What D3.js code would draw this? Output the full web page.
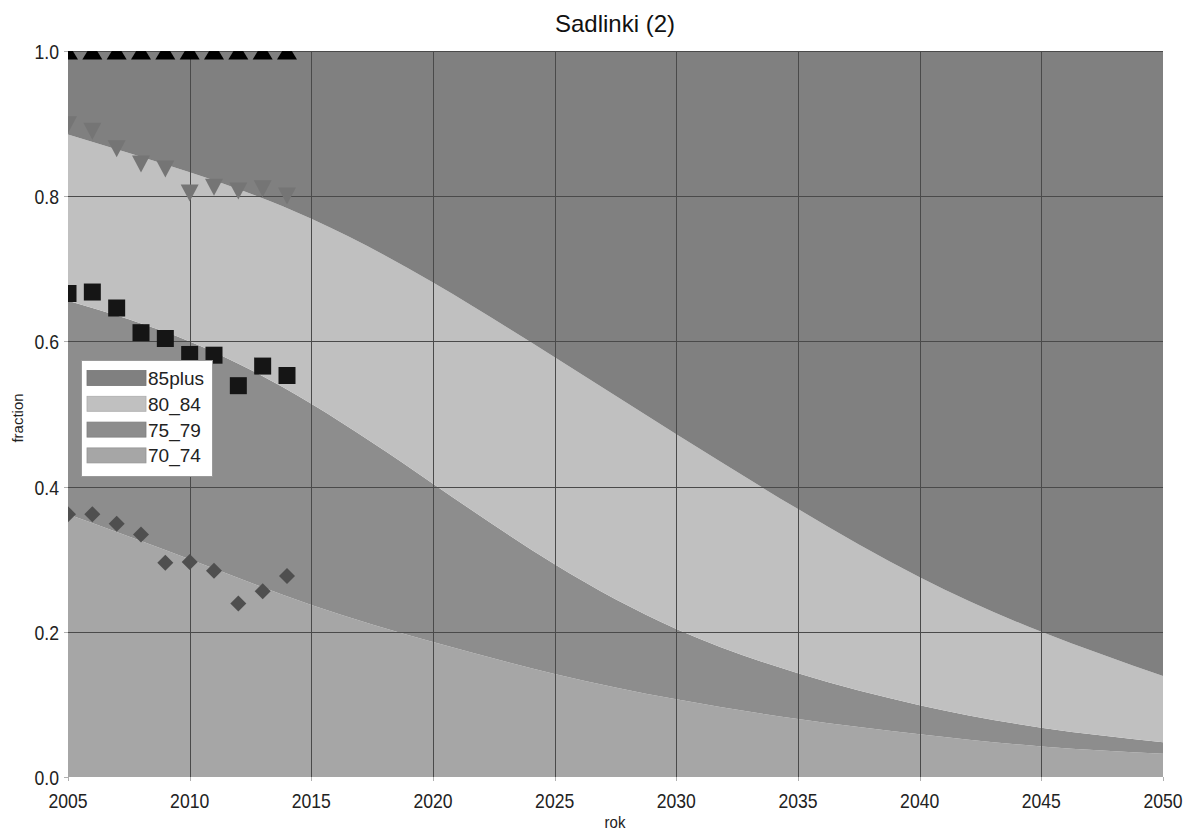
<!DOCTYPE html>
<html>
<head>
<meta charset="utf-8">
<script src="https://cdn.jsdelivr.net/npm/d3@7/dist/d3.min.js"></script>
<style>
  html, body { margin: 0; padding: 0; background: #fff; }
  svg { display: block; font-family: "Liberation Sans", Arial, sans-serif; }
</style>
</head>
<body>
<svg id="chart" width="1186" height="833"></svg>
<script>
// ---- data ----
const years = [2005, 2010, 2015, 2020, 2025, 2030, 2035, 2040, 2045, 2050];
const s70_74 = [0.362, 0.300, 0.237, 0.186, 0.142, 0.107, 0.080, 0.059, 0.042, 0.032];
const s75_79 = [0.294, 0.300, 0.277, 0.218, 0.151, 0.097, 0.063, 0.040, 0.026, 0.016];
const s80_84 = [0.229, 0.233, 0.255, 0.277, 0.285, 0.268, 0.226, 0.176, 0.132, 0.091];
const s85plus = [0.115, 0.167, 0.231, 0.319, 0.422, 0.528, 0.631, 0.725, 0.800, 0.861];

const obsYears = [2005, 2006, 2007, 2008, 2009, 2010, 2011, 2012, 2013, 2014];
const obs85plus = [1, 1, 1, 1, 1, 1, 1, 1, 1, 1];
const obs80_84 = [0.899, 0.890, 0.866, 0.845, 0.838, 0.805, 0.813, 0.808, 0.811, 0.801];
const obs75_79 = [0.666, 0.668, 0.646, 0.612, 0.604, 0.582, 0.581, 0.539, 0.566, 0.553];
const obs70_74 = [0.362, 0.362, 0.349, 0.334, 0.295, 0.296, 0.284, 0.239, 0.256, 0.277];

const keys = ["70_74", "75_79", "80_84", "85plus"];
const legendKeys = ["85plus", "80_84", "75_79", "70_74"];
const xTicks = [2005, 2010, 2015, 2020, 2025, 2030, 2035, 2040, 2045, 2050];
const yTicks = [0, 0.2, 0.4, 0.6, 0.8, 1.0];

// ---- styles ----
const fills = { "85plus": "#808080", "80_84": "#c0c0c0", "75_79": "#8d8d8d", "70_74": "#a6a6a6" };

const svg = d3.select("#chart");
const m = { left: 68, right: 1163, top: 51, bottom: 777 };
const x = d3.scaleLinear().domain([2005, 2050]).range([m.left, m.right]);
const y = d3.scaleLinear().domain([0, 1]).range([m.bottom, m.top]);

const table = years.map((yr, i) => ({
  year: yr, "70_74": s70_74[i], "75_79": s75_79[i], "80_84": s80_84[i], "85plus": s85plus[i]
}));
const stacked = d3.stack().keys(keys)(table);

svg.append("defs").append("clipPath").attr("id", "plotclip")
  .append("rect").attr("x", m.left).attr("y", m.top)
  .attr("width", m.right - m.left).attr("height", m.bottom - m.top);

const area = d3.area()
  .x(d => x(d.data.year)).y0(d => y(d[0])).y1(d => y(d[1]))
  .curve(d3.curveNatural);

const plot = svg.append("g").attr("clip-path", "url(#plotclip)");
plot.selectAll("path.band").data(stacked).join("path")
  .attr("class", "band")
  .attr("fill", d => fills[d.key])
  .attr("d", area);

// gridlines
const grid = svg.append("g");
grid.selectAll("line.v").data(xTicks).join("line")
  .attr("x1", d => Math.round(x(d)) + 0.5).attr("x2", d => Math.round(x(d)) + 0.5)
  .attr("y1", m.top).attr("y2", m.bottom)
  .attr("stroke", d => (d === 2005 || d === 2050) ? "none" : "#4a4a4a").attr("stroke-width", 1);
grid.selectAll("line.h").data(yTicks).join("line")
  .attr("x1", m.left).attr("x2", m.right)
  .attr("y1", d => Math.round(y(d)) + 0.5).attr("y2", d => Math.round(y(d)) + 0.5)
  .attr("stroke", d => d === 0 ? "none" : "#4a4a4a").attr("stroke-width", 1);

// small ticks
grid.selectAll("line.xt").data(xTicks).join("line")
  .attr("x1", d => Math.round(x(d)) + 0.5).attr("x2", d => Math.round(x(d)) + 0.5)
  .attr("y1", m.bottom).attr("y2", m.bottom + 4).attr("stroke", "#b0b0b0");
grid.selectAll("line.yt").data(yTicks).join("line")
  .attr("x1", m.left - 4).attr("x2", m.left)
  .attr("y1", d => Math.round(y(d)) + 0.5).attr("y2", d => Math.round(y(d)) + 0.5).attr("stroke", "#b0b0b0");

// markers
const markers = svg.append("g").attr("clip-path", "url(#plotclip)");
const triUp = "M0,-8L10,8.5L-10,8.5Z";
const triDown = "M-9,-8L9,-8L0,9Z";
const square = "M-8.5,-8.5L8.5,-8.5L8.5,8.5L-8.5,8.5Z";
const diamond = "M0,-8L8,0L0,8L-8,0Z";
const obsSeries = [
  { vals: obs85plus, path: triUp, color: "#000000" },
  { vals: obs80_84, path: triDown, color: "#757575" },
  { vals: obs75_79, path: square, color: "#151515" },
  { vals: obs70_74, path: diamond, color: "#4f4f4f" }
];
obsSeries.forEach(s => {
  markers.append("g").selectAll("path").data(obsYears.map((yr, i) => [yr, s.vals[i]])).join("path")
    .attr("d", s.path)
    .attr("fill", s.color)
    .attr("transform", d => `translate(${x(d[0])},${y(d[1])})`);
});

// text helper with horizontal compression
function label(g, tx, ty, txt, size, anchor, sx) {
  g.append("g").attr("transform", `translate(${tx},${ty}) scale(${sx},1)`)
    .append("text").attr("text-anchor", anchor).attr("font-size", size)
    .attr("fill", "#222").text(txt);
}

const axes = svg.append("g");
xTicks.forEach(t => label(axes, x(t), 808, String(t), 20, "middle", 0.88));
yTicks.forEach(t => label(axes, 59, y(t) + 8, d3.format(".1f")(t), 20, "end", 0.88));

label(axes, 615, 828, "rok", 17, "middle", 0.88);
axes.append("text")
  .attr("transform", `translate(23,418) rotate(-90)`)
  .attr("text-anchor", "middle").attr("font-size", 15).attr("fill", "#222")
  .text("fraction");

// title
svg.append("text").attr("x", 615).attr("y", 32).attr("text-anchor", "middle")
  .attr("font-size", 24).attr("fill", "#111").text("Sadlinki (2)");

// legend
const lg = svg.append("g");
lg.append("rect").attr("x", 81.5).attr("y", 360.5).attr("width", 131).attr("height", 116)
  .attr("fill", "#fff").attr("stroke", "#9a9a9a");
legendKeys.forEach((k, i) => {
  const cy = 378 + i * 25.8;
  lg.append("rect").attr("x", 87).attr("y", cy - 7.5).attr("width", 59).attr("height", 15)
    .attr("fill", fills[k]).attr("stroke", d3.color(fills[k]).darker(0.3)).attr("stroke-width", 0.8);
  lg.append("text").attr("x", 148).attr("y", cy + 7).attr("font-size", 19).attr("fill", "#222").text(k);
});
</script>
</body>
</html>
